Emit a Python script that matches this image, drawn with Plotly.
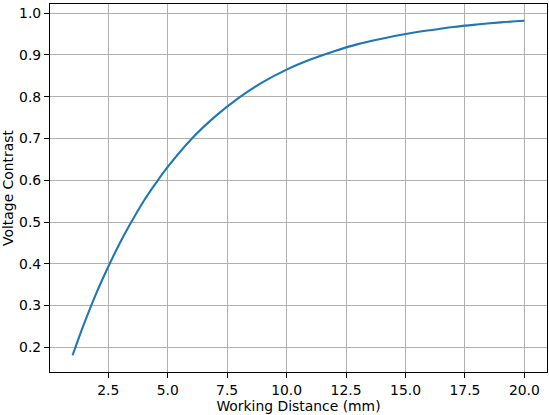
import plotly.graph_objects as go

# values
working_distance = [1, 1.5, 2, 2.5, 3, 3.5, 4, 4.5, 5, 6, 7, 8, 9, 10,
                    11, 12, 13, 14, 15, 16, 17, 18, 19, 20]
voltage_contrast = [0.181, 0.259, 0.330, 0.393, 0.451, 0.503, 0.551, 0.593,
                    0.632, 0.699, 0.753, 0.798, 0.835, 0.865, 0.889, 0.909,
                    0.926, 0.939, 0.950, 0.959, 0.967, 0.973, 0.978, 0.982]

x_ticks = [2.5, 5.0, 7.5, 10.0, 12.5, 15.0, 17.5, 20.0]
y_ticks = [0.2, 0.3, 0.4, 0.5, 0.6, 0.7, 0.8, 0.9, 1.0]

font = dict(family="DejaVu Sans", size=13.9, color="black")

fig = go.Figure()
fig.add_trace(go.Scatter(x=working_distance, y=voltage_contrast, mode="lines",
                         line=dict(color="#1f77b4", width=2.1, shape="spline")))

axis_style = dict(showline=True, linecolor="black", linewidth=1.1, mirror=True,
                  showgrid=True, gridcolor="#b0b0b0", gridwidth=1.1,
                  ticks="outside", ticklen=5, tickcolor="black", tickwidth=1.1,
                  zeroline=False, tickfont=font, automargin=False)

xspan = max(working_distance) - min(working_distance)
yspan = max(voltage_contrast) - min(voltage_contrast)

fig.update_xaxes(axis_style, range=[min(working_distance) - 0.05 * xspan,
                                    max(working_distance) + 0.05 * xspan],
                 tickvals=x_ticks, ticktext=[f"{v:.1f}" for v in x_ticks],
                 title=dict(text="Working Distance (mm)", font=font, standoff=4))
fig.update_yaxes(axis_style, range=[min(voltage_contrast) - 0.05 * yspan,
                                    max(voltage_contrast) + 0.05 * yspan],
                 tickvals=y_ticks, ticktext=[f"{v:.1f}" for v in y_ticks],
                 title=dict(text="Voltage Contrast", font=font, standoff=6))

fig.update_layout(width=549, height=415, showlegend=False,
                  plot_bgcolor="white", paper_bgcolor="white",
                  margin=dict(l=50, r=2, t=4, b=43))

fig.write_html("out.html", config={"displayModeBar": False},
               post_script="document.body.style.margin='0';")
